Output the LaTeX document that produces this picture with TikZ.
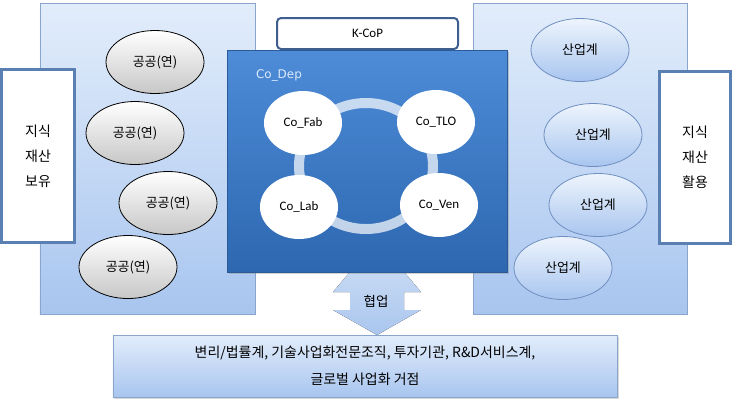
\documentclass[tikz,border=0pt]{standalone}
\usepackage{fontspec}
\setmainfont{Carlito}
\newfontfamily\kr{Noto Sans CJK KR}
\newfontfamily\depfont{DejaVu Sans}
\usetikzlibrary{shapes.geometric,shadows,positioning}

\definecolor{panelTop}{HTML}{E2EDFB}
\definecolor{panelBot}{HTML}{A8C5EF}
\definecolor{panelLine}{HTML}{8AA5CC}
\definecolor{labelLine}{HTML}{5A7FB2}
\definecolor{kcopLine}{HTML}{3D5E8E}
\definecolor{depTop}{HTML}{4E8CD8}
\definecolor{depBot}{HTML}{2D67B0}
\definecolor{depLine}{HTML}{2B5A98}
\definecolor{depText}{HTML}{DCE9FA}
\definecolor{indLine}{HTML}{6F8FC0}
\definecolor{arrowTop}{HTML}{D3E2F6}
\definecolor{arrowBot}{HTML}{AAC6EE}

\tikzset{
  panel/.style={draw=panelLine, line width=0.8bp, top color=panelTop, bottom color=panelBot},
  sidelabel/.style={draw=labelLine, fill=white, line width=3bp, align=center,
    font=\kr\fontsize{14}{25}\selectfont},
  pub/.style={ellipse, draw=black, line width=0.8bp, top color=white, bottom color=black!22,
    minimum width=98bp, minimum height=63bp, inner sep=0pt, font=\kr\fontsize{13}{15}\selectfont},
  ind/.style={ellipse, draw=indLine, line width=0.8bp, top color=panelTop!60!white, bottom color=panelBot,
    minimum width=98bp, minimum height=63bp, inner sep=0pt, font=\kr\fontsize{13}{15}\selectfont},
  unit/.style={ellipse, fill=white, minimum width=78bp, minimum height=64bp, inner sep=0pt,
    font=\fontsize{13}{15}\selectfont},
  ring/.style={draw=white, draw opacity=0.7, line width=10bp},
}

\begin{document}
\begin{tikzpicture}[x=1bp, y=-1bp]
  \useasboundingbox (0,0) rectangle (734,405);
  % side panels
  \node[panel, minimum width=215bp, minimum height=311bp] (pubpanel) at (147.5,159) {};
  \node[panel, minimum width=214bp, minimum height=311bp] (indpanel) at (580,159) {};
  % labels at both sides
  \node[sidelabel, minimum width=73bp, minimum height=173bp] (hold) at (38,156) {지식\\재산\\보유};
  \node[sidelabel, minimum width=71bp, minimum height=172bp] (use) at (695,157.5) {지식\\재산\\활용};
  % public research
  \node[pub] (pub1) at (155,62) {공공(연)};
  \node[pub] (pub2) at (135,133) {공공(연)};
  \node[pub] (pub3) at (168,203) {공공(연)};
  \node[pub] (pub4) at (128,267) {공공(연)};
  % industry
  \node[ind] (ind1) at (580,50) {산업계};
  \node[ind] (ind2) at (593,135) {산업계};
  \node[ind] (ind3) at (598,205) {산업계};
  \node[ind] (ind4) at (563,268) {산업계};
  % collaboration arrow (top head runs under Co_Dep)
  \fill[top color=arrowTop, bottom color=arrowBot]
    (377,240) -- (421,292) -- (404,292) -- (404,310) -- (421,310) -- (377,335)
    -- (333,310) -- (350,310) -- (350,292) -- (333,292) -- cycle;
  \node[font=\kr\fontsize{13.5}{15}\selectfont] (collab) at (376,301) {협업};
  % K-CoP
  \node[draw=kcopLine, line width=2bp, fill=white, rounded corners=4bp,
    minimum width=181bp, minimum height=31bp, font=\fontsize{13}{15}\selectfont] (kcop) at (367.5,33.5) {K-CoP};
  % Co_Dep
  \node[draw=depLine, line width=0.8bp, top color=depTop, bottom color=depBot,
    minimum width=280bp, minimum height=222bp,
    drop shadow={shadow xshift=2bp, shadow yshift=-2bp, opacity=0.35}] (dep) at (367,161) {};
  \node[text=depText, font=\depfont\fontsize{12}{14}\selectfont] (deplabel) at (279,75) {Co\_Dep};
  \draw[ring] (366,166) ellipse (67 and 63);
  \node[unit] (fab) at (303,123) {Co\_Fab};
  \node[unit] (tlo) at (436,122) {Co\_TLO};
  \node[unit] (lab) at (299,207) {Co\_Lab};
  \node[unit] (ven) at (439,205) {Co\_Ven};
  % partners
  \node[panel, minimum width=504bp, minimum height=62bp, align=center,
    font=\kr\fontsize{14}{27}\selectfont,
    drop shadow={shadow xshift=1.5bp, shadow yshift=-1.5bp, opacity=0.3}] (partners) at (365,366)
    {변리/법률계, 기술사업화전문조직, 투자기관, R\&D서비스계,\\글로벌 사업화 거점};
\end{tikzpicture}
\end{document}
